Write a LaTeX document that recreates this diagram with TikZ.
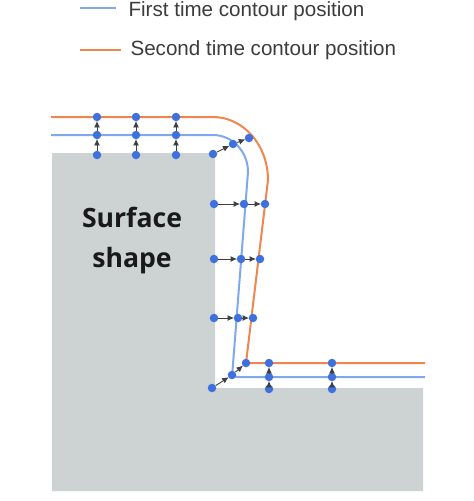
\documentclass[tikz,border=0pt]{standalone}
\usepackage{fontspec}
\setmainfont{Liberation Sans}
\newfontfamily\shapefont{Open Sans}
\usetikzlibrary{arrows.meta}
\definecolor{surfgray}{RGB}{205,210,210}
\definecolor{firstblue}{RGB}{128,168,238}
\definecolor{secondorange}{RGB}{238,134,78}
\definecolor{dotblue}{RGB}{62,112,222}
\definecolor{legendtext}{RGB}{60,60,60}
\begin{document}
\begin{tikzpicture}[x=1pt, y=-1pt,
    dot/.style={circle, fill=dotblue, inner sep=0pt, minimum size=8.5pt},
    push/.style={-{Latex[length=6.5pt, width=6pt]}, line width=0.9pt, black!75, shorten >=-0.5pt},
    contour/.style={line width=2pt}]
    \useasboundingbox (0,0) rectangle (474,501);
    % surface
    \fill[surfgray] (52,153) -- (215,153) -- (215,388) -- (423,388) -- (423,491) -- (52,491) -- cycle;
    \node[font=\shapefont\bfseries\fontsize{26.6}{40}\selectfont, align=center, text=black!90, anchor=base] (surf) at (132,267) {Surface\\shape};
    % contours
    \draw[contour, firstblue] (51,135) -- (213,135) .. controls (232.3,135) and (248,151.6) .. (248,172)
        [rounded corners=5pt] -- (232,377) -- (425,377);
    \draw[contour, secondorange] (51,117) -- (213,117) .. controls (243.4,117) and (268,145.2) .. (268,180)
        -- (246,363) -- (425,363);
    % legend
    \node[anchor=base west, text=legendtext, font=\fontsize{20.6}{24}\selectfont] (leg1) at (125,16) {First time contour position};
    \node[anchor=base west, text=legendtext, font=\fontsize{20.6}{24}\selectfont] (leg2) at (127,55) {Second time contour position};
    \coordinate (sw1) at (80,8);
    \coordinate (sw2) at (80,50);
    \draw[contour, firstblue] (sw1) -- ++(36,0);
    \draw[contour, secondorange] (sw2) -- ++(41,0);
    % top dots
    \node[dot] (gt1) at (97,155) {};
    \node[dot] (bt1) at (97,135) {};
    \node[dot] (ot1) at (97,117) {};
    \node[dot] (gt2) at (136,155) {};
    \node[dot] (bt2) at (136,135) {};
    \node[dot] (ot2) at (136,117) {};
    \node[dot] (gt3) at (176,155) {};
    \node[dot] (bt3) at (176,135) {};
    \node[dot] (ot3) at (176,117) {};
    % top corner
    \node[dot] (gc1) at (213,154) {};
    \node[dot] (bc1) at (233,144) {};
    \node[dot] (oc1) at (249,138) {};
    % side dots
    \node[dot] (gs1) at (214,204) {};
    \node[dot] (bs1) at (244,204) {};
    \node[dot] (os1) at (265,204) {};
    \node[dot] (gs2) at (214,259) {};
    \node[dot] (bs2) at (241,259) {};
    \node[dot] (os2) at (260,259) {};
    \node[dot] (gs3) at (214,318) {};
    \node[dot] (bs3) at (238,318) {};
    \node[dot] (os3) at (253,318) {};
    % bottom corner
    \node[dot] (gc2) at (212,388) {};
    \node[dot] (bc2) at (232,375) {};
    \node[dot] (oc2) at (246,363) {};
    % bottom dots
    \node[dot] (gb1) at (269,389) {};
    \node[dot] (bb1) at (269,377) {};
    \node[dot] (ob1) at (269,363) {};
    \node[dot] (gb2) at (332,389) {};
    \node[dot] (bb2) at (332,377) {};
    \node[dot] (ob2) at (332,363) {};
    % moves
    \foreach \p in {t1,t2,t3,c1,s1,s2,s3,c2,b1,b2} {
        \draw[push] (g\p) -- (b\p);
        \draw[push] (b\p) -- (o\p);
    }
\end{tikzpicture}
\end{document}
